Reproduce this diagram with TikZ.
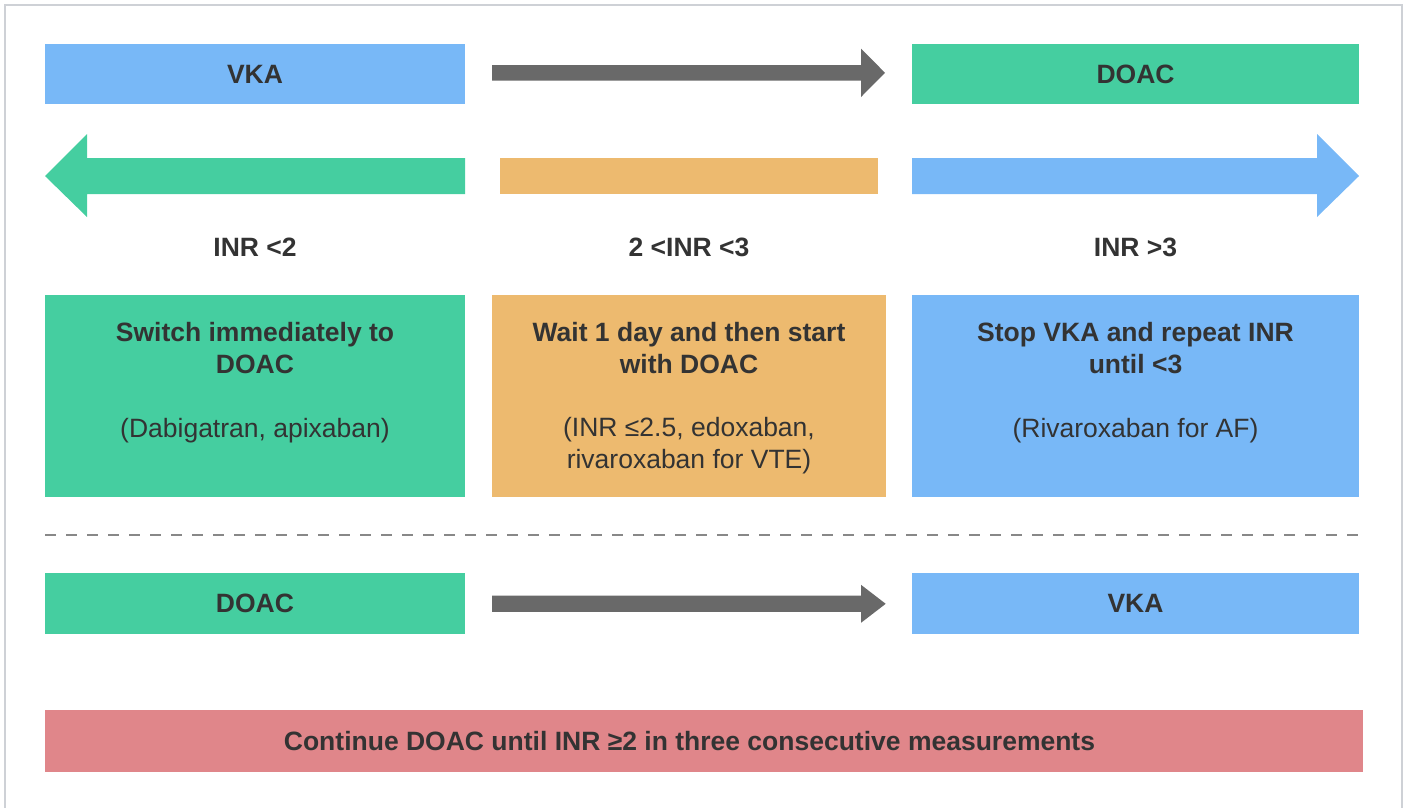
\documentclass[tikz,border=0pt]{standalone}
\usepackage{fontspec}
\setmainfont{Liberation Sans}
\usetikzlibrary{calc}
\definecolor{cblue}{HTML}{78B8F7}
\definecolor{cgreen}{HTML}{45CEA0}
\definecolor{corange}{HTML}{EDBA6F}
\definecolor{cred}{HTML}{E0868A}
\definecolor{cgray}{HTML}{696969}
\definecolor{ctext}{HTML}{333333}
\definecolor{cdash}{HTML}{888888}
\definecolor{cborder}{HTML}{CED1D6}
\begin{document}
\begin{tikzpicture}[x=1pt,y=-1pt,
  box/.style={fill=#1, draw=none, inner sep=0pt, outer sep=0pt, anchor=north west, text=ctext},
  hd/.style={font=\fontsize{26.5}{31.7}\selectfont\bfseries, text=ctext, inner sep=0pt, anchor=base},
  nt/.style={font=\fontsize{26.5}{31.7}\selectfont, text=ctext, inner sep=0pt, anchor=base},
  bigarrow/.style={fill=cgray, draw=none}]
\useasboundingbox (0,0) rectangle (1405,807);
% frame
\draw[cborder, line width=2pt] (4.5,810) -- (4.5,4.5) -- (1401.5,4.5) -- (1401.5,810);

% top row
\node[box=cblue, minimum width=420pt, minimum height=60pt, font=\fontsize{26.5}{31.7}\selectfont\bfseries] (vkaA) at (45,44) {VKA};
\node[box=cgreen, minimum width=447pt, minimum height=60pt, font=\fontsize{26.5}{31.7}\selectfont\bfseries] (doacA) at (912,44) {DOAC};
\coordinate (a1s) at ($(vkaA.east)+(27,-1.2)$);
\coordinate (a1e) at ($(doacA.west)+(-27,-1.2)$);
\fill[bigarrow] ($(a1s)+(0,-7.8)$) -- ($(a1e)+(-24,-7.8)$) -- ($(a1e)+(-24,-24.2)$) -- (a1e)
  -- ($(a1e)+(-24,24.2)$) -- ($(a1e)+(-24,7.8)$) -- ($(a1s)+(0,7.8)$) -- cycle;

% INR arrows row
\coordinate (gl) at (45,176);
\coordinate (gr) at (465,176);
\fill[cgreen] (gl) -- ($(gl)+(42,-42)$) -- ($(gl)+(42,-18)$) -- ($(gr)+(0,-18)$) -- ($(gr)+(0,18)$)
  -- ($(gl)+(42,18)$) -- ($(gl)+(42,41)$) -- cycle;
\node[box=corange, minimum width=378pt, minimum height=36pt] (obar) at (500,157.7) {};
\coordinate (bl) at (912,176);
\coordinate (br) at (1359,176);
\fill[cblue] (br) -- ($(br)+(-42,-42)$) -- ($(br)+(-42,-18)$) -- ($(bl)+(0,-18)$) -- ($(bl)+(0,18)$)
  -- ($(br)+(-42,18)$) -- ($(br)+(-42,41)$) -- cycle;

% INR labels
\node[hd] (l1) at (255,256) {INR <2};
\node[hd] (l2) at (689,256) {2 <INR <3};
\node[hd] (l3) at (1135.5,256) {INR >3};

% big boxes
\node[box=cgreen, minimum width=420pt, minimum height=201.7pt] (gbox) at (45,295) {};
\node[box=corange, minimum width=394pt, minimum height=201.7pt] (obox) at (492,295) {};
\node[box=cblue, minimum width=447pt, minimum height=201.7pt] (bbox) at (912,295) {};

\node[hd] (g1) at (255,341.7) {Switch immediately to};
\node[hd] (g2) at (255,373.3) {DOAC};
\node[nt] (g3) at (255,437) {(Dabigatran, apixaban)};

\node[hd] (o1) at (689,341.7) {Wait 1 day and then start};
\node[hd] (o2) at (689,373.3) {with DOAC};
\node[nt] (o3) at (689,436.7) {(INR ≤2.5, edoxaban,};
\node[nt] (o4) at (689,468.3) {rivaroxaban for VTE)};

\node[hd] (b1) at (1135.5,341.7) {Stop VKA and repeat INR};
\node[hd] (b2) at (1135.5,373.3) {until <3};
\node[nt] (b3) at (1135.5,437) {(Rivaroxaban for AF)};

% dashed separator
\coordinate (dl) at (45,535);
\coordinate (dr) at (1362,535);
\draw[cdash, line width=2pt, dash pattern=on 11pt off 10pt] (dl) -- (dr);

% bottom row
\node[box=cgreen, minimum width=420pt, minimum height=61pt, font=\fontsize{26.5}{31.7}\selectfont\bfseries] (doacB) at (45,573) {DOAC};
\node[box=cblue, minimum width=447pt, minimum height=61pt, font=\fontsize{26.5}{31.7}\selectfont\bfseries] (vkaB) at (912,573) {VKA};
\coordinate (a2s) at ($(doacB.east)+(27,0.3)$);
\coordinate (a2e) at ($(vkaB.west)+(-26.3,0.3)$);
\fill[bigarrow] ($(a2s)+(0,-8.1)$) -- ($(a2e)+(-24.7,-8.1)$) -- ($(a2e)+(-24.7,-19)$) -- (a2e)
  -- ($(a2e)+(-24.7,19)$) -- ($(a2e)+(-24.7,8.1)$) -- ($(a2s)+(0,8.1)$) -- cycle;

% red bar
\node[box=cred, minimum width=1318pt, minimum height=61.7pt] (rbar) at (45,710) {};
\node[font=\fontsize{26.5}{31.7}\selectfont\bfseries, text=ctext, inner sep=0pt] (rtext) at (689.5,741.5) {Continue DOAC until INR ≥2 in three consecutive measurements};
\end{tikzpicture}
\end{document}
